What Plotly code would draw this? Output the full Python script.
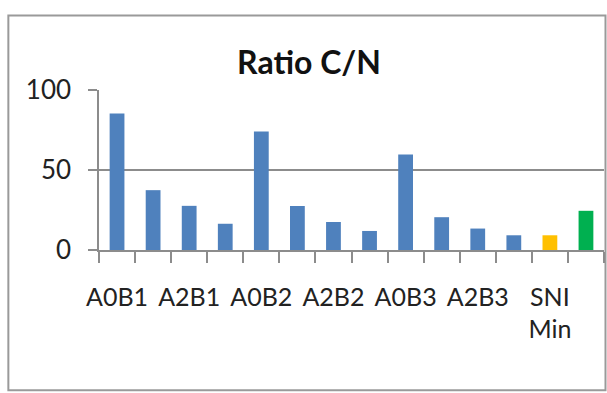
import plotly.graph_objects as go

categories = ["A0B1", "A1B1", "A2B1", "A3B1", "A0B2", "A1B2", "A2B2", "A3B2",
              "A0B3", "A1B3", "A2B3", "A3B3", "SNI Min", "SNI Max"]
ratio_cn = [85.3, 37.4, 27.6, 16.4, 74.0, 27.5, 17.5, 11.9,
            59.7, 20.5, 13.4, 9.2, 9.2, 24.5]
tick_labels = ["A0B1", "", "A2B1", "", "A0B2", "", "A2B2", "",
               "A0B3", "", "A2B3", "", "SNI<br>Min", ""]
y_ticks = [0, 50, 100]

bar_colors = ["#4F81BD"] * 12 + ["#FFC000", "#00B050"]

W, H = 607, 393
L, R, T, B = 98.7, 604.0, 90.3, 250.0
grid = "#8c8c8c"
font = "Lato"

fig = go.Figure(go.Bar(x=categories, y=ratio_cn, marker=dict(color=bar_colors, line=dict(width=0)),
                       hoverinfo="x+y"))

pw, ph = R - L, B - T
fig.update_layout(
    width=W, height=H,
    margin=dict(l=L, r=W - R, t=T, b=H - B, pad=0),
    paper_bgcolor="white", plot_bgcolor="white",
    showlegend=False,
    bargap=0.59,
    font=dict(family=font, color="#222222"),
    title=dict(text="<b>Ratio C/N</b>", font=dict(family=font, size=32, color="#111111"),
               x=309 / W, xref="container", xanchor="center",
               y=1 - 63 / H, yref="container", yanchor="middle"),
    xaxis=dict(type="category", tickmode="array", tickvals=categories, ticktext=tick_labels,
               tickson="boundaries", ticks="outside", ticklen=11, tickwidth=1.5, tickcolor=grid,
               showline=True, linecolor=grid, linewidth=1.5, showgrid=False,
               tickfont=dict(family=font, size=25, color="#222222"), tickangle=0,
               ticklabelstandoff=24, range=[-0.5, 13.5]),
    yaxis=dict(range=[0, 100], tickmode="array", tickvals=y_ticks,
               ticks="outside", ticklen=9, tickwidth=1.5, tickcolor=grid,
               showline=True, linecolor=grid, linewidth=1.5,
               showgrid=True, gridcolor=grid, gridwidth=1.5, zeroline=False,
               tickfont=dict(family=font, size=26, color="#222222"),
               ticklabelstandoff=12),
    shapes=[dict(type="rect", xref="paper", yref="paper",
                 x0=(8 - L) / pw, x1=(605.5 - L) / pw,
                 y0=(B - 390) / ph, y1=(B - 16) / ph,
                 line=dict(color="#9a9a9a", width=2), fillcolor="rgba(0,0,0,0)", layer="below")],
)

fig.write_html("out.html")
